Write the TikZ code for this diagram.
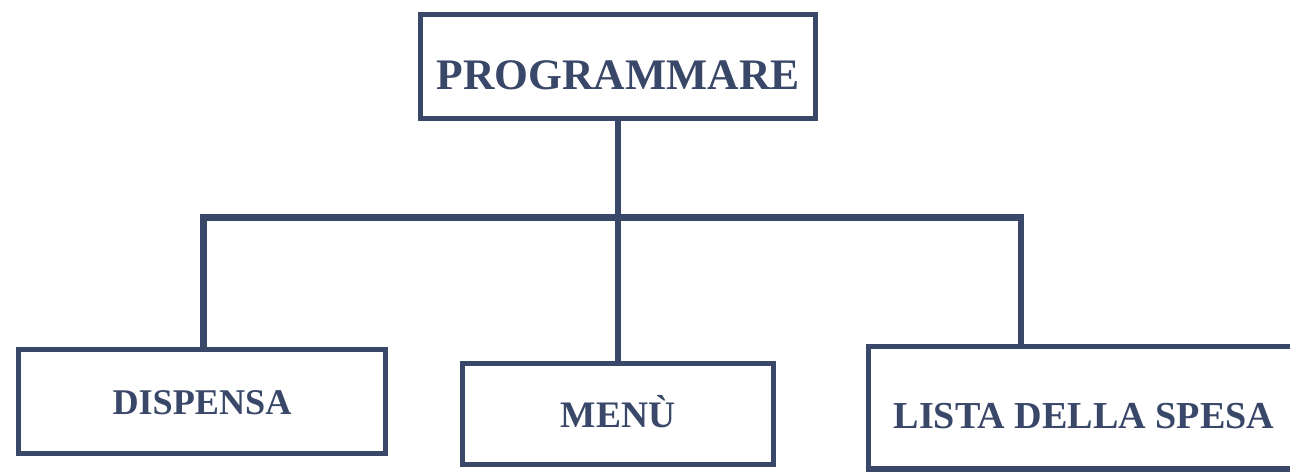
\documentclass[tikz,border=0pt]{standalone}
\usepackage{fontspec}
\setmainfont{Liberation Serif}
\definecolor{navy}{RGB}{57,71,104}
\tikzset{
  box/.style={draw=navy, line width=2.9pt, inner sep=0pt, text=navy,
    font=\bfseries, text depth=0pt, align=center},
  link/.style={draw=navy, line width=3.7pt}
}
\begin{document}
\begin{tikzpicture}[x=0.02cm, y=-0.02cm]
			\useasboundingbox (0,0) rectangle (1290,471);
			\fill[white] (0,0) rectangle (1290,471);
			\clip (0,0) rectangle (1290,471);
			% boxes
			\node[box, minimum width=7.9cm, minimum height=2.08cm, text height=0.9cm,
				font=\fontsize{24.8}{28}\bfseries] (top) at (618,66.5) {PROGRAMMARE};
			\node[box, minimum width=7.34cm, minimum height=2.08cm, text height=0.52cm,
				font=\fontsize{20.6}{24}\bfseries] (dispensa) at (202,401.5) {DISPENSA};
			\node[box, minimum width=6.22cm, minimum height=2.02cm, text height=0.54cm,
				font=\fontsize{21.3}{24}\bfseries] (menu) at (618,414) {MENÙ};
			\node[box, minimum width=8.63cm, minimum height=2.45cm, text height=0.84cm,
				font=\fontsize{21.7}{24}\bfseries] (lista) at (1084,407.75) {LISTA DELLA SPESA};
			% connectors
			\coordinate (ljoin) at (203.5,217.5);
			\coordinate (rjoin) at (1021,217.5);
			\draw[link] (top) -- (menu);
			\draw[link] (ljoin |- dispensa.north) -- (ljoin) -- (rjoin) -- (rjoin |- lista.north);
\end{tikzpicture}
\end{document}
